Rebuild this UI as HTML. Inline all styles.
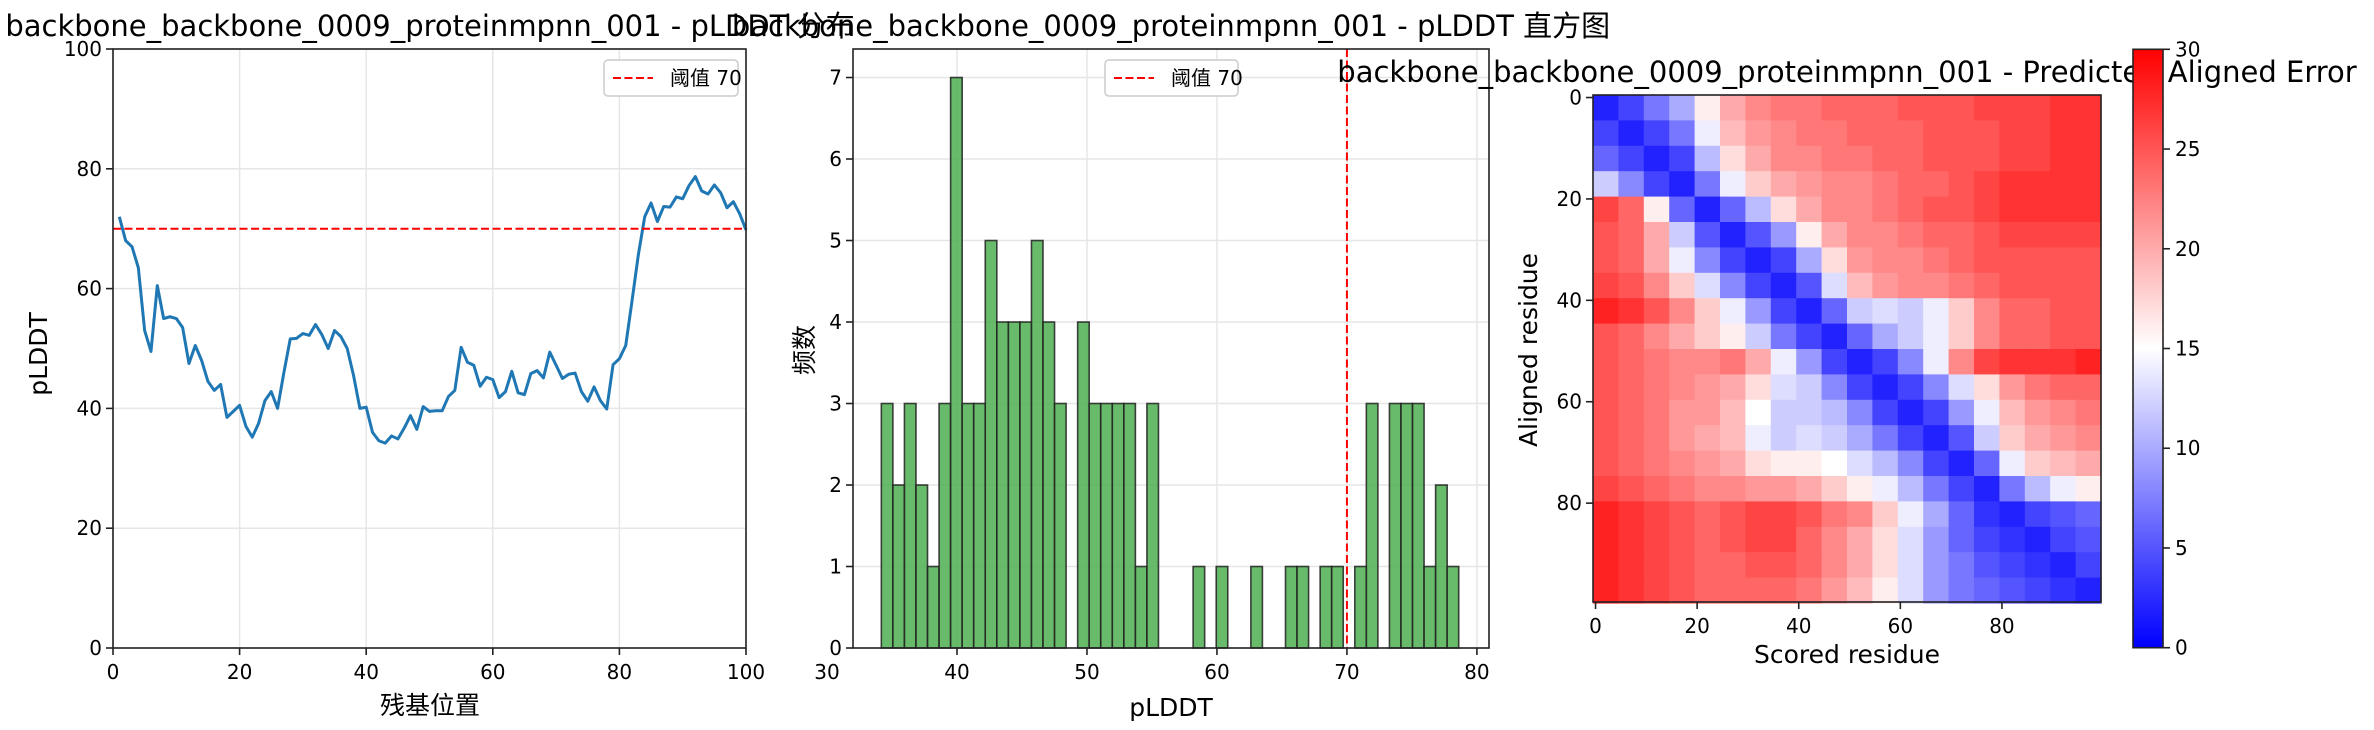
<!DOCTYPE html>
<html><head><meta charset="utf-8"><style>
body{margin:0;background:#fff}
svg{display:block;font-family:"DejaVu Sans","Liberation Sans","Noto Sans CJK SC",sans-serif}
</style></head><body>
<svg id="fig" width="2374" height="730" viewBox="0 0 2374 730">
<g id="p1"></g>
<g id="p2"></g>
<g id="p3"></g>
</svg>
<script>
const plddtValues=[72,68,67,63.5,53,49.5,60.5,55,55.3,55,53.5,47.5,50.5,48,44.5,43,44,38.5,39.5,40.5,37,35.2,37.5,41.3,42.8,40,46,51.6,51.7,52.5,52.2,54,52.3,50,53,52,50,45.5,40,40.2,36,34.6,34.2,35.4,34.9,36.7,38.8,36.5,40.3,39.5,39.6,39.6,42,43,50.2,47.7,47.2,43.7,45.2,44.8,41.8,42.8,46.2,42.6,42.3,45.8,46.3,45.1,49.4,47.2,45,45.7,45.9,42.8,41.2,43.6,41.3,39.9,47.3,48.3,50.5,58,65.7,72,74.3,71.2,73.7,73.6,75.3,75,77.2,78.7,76.3,75.8,77.3,76,73.5,74.5,72.5,69.8];
const lineXTicks=[0,20,40,60,80,100];
const lineYTicks=[0,20,40,60,80,100];
const threshold=70;
const histCounts=[3,2,3,2,1,3,7,3,3,5,4,4,4,5,4,3,0,4,3,3,3,3,1,3,0,0,0,1,0,1,0,0,1,0,0,1,1,0,1,1,0,1,3,0,3,3,3,1,2,1];
const histMin=34.18, histMax=78.6;
const histXTicks=[30,40,50,60,70,80];
const histYTicks=[0,1,2,3,4,5,6,7];
const paeGrid=[
[2,4,7,10,16,20,22,23,23,24,24,24,25,25,25,26,26,26,27,27],
[4,2,4,7,14,19,21,22,23,23,24,24,24,25,25,25,26,26,27,27],
[6,4,2,4,11,17,20,22,22,23,23,24,24,25,25,25,26,26,27,27],
[12,8,4,2,7,14,18,20,21,22,22,23,24,24,25,26,27,27,27,27],
[26,24,16,6,2,6,11,17,20,22,22,23,24,25,25,26,27,27,27,27],
[25,24,20,12,5,2,5,9,16,20,22,22,23,24,24,25,26,26,26,26],
[25,24,20,14,8,4,2,4,10,17,21,22,22,23,24,25,25,25,25,25],
[26,25,22,18,13,8,4,2,5,13,19,21,22,22,23,24,25,25,25,25],
[28,27,25,22,18,14,9,4,2,6,12,13,12,14,18,22,24,24,25,25],
[25,24,22,20,18,16,12,7,4,2,6,10,12,14,18,22,24,24,25,25],
[25,24,23,22,22,23,20,14,9,4,2,4,8,14,22,26,27,27,27,28],
[25,24,23,22,21,20,17,13,12,8,4,2,4,8,13,17,21,23,24,24],
[25,24,23,21,21,19,15,12,12,11,8,4,2,4,9,14,19,21,22,23],
[25,24,23,21,20,19,14,12,13,12,10,7,4,2,5,12,18,20,21,22],
[25,24,23,22,21,20,17,16,16,15,13,11,8,4,2,6,14,18,19,20],
[26,25,24,23,22,22,21,21,20,18,16,14,11,7,4,2,7,11,14,16],
[28,27,26,25,24,25,26,26,25,23,22,18,14,10,6,3,2,4,5,6],
[28,27,26,25,24,25,26,26,24,22,20,17,13,9,6,4,3,2,4,5],
[28,27,26,25,24,24,25,25,24,22,20,17,13,9,7,5,4,3,2,4],
[28,27,26,25,24,24,24,24,23,21,19,16,13,9,7,6,5,4,3,2]];
const paeTicks=[0,20,40,60,80];
const cbarTicks=[0,5,10,15,20,25,30];

const NS="http://www.w3.org/2000/svg";
function mk(parent,tag,attrs,text){const e=document.createElementNS(NS,tag);for(const k in attrs)e.setAttribute(k,attrs[k]);if(text!==undefined)e.textContent=text;parent.appendChild(e);return e;}
const TF=20, LF=25, TTF=29;
const T0=49, B0=648;

// ---------- Panel 1 ----------
(function(){
const g=document.getElementById('p1');
const L=113,R=746,T=T0,B=B0;
const x=v=>L+v/100*(R-L), y=v=>B-v/100*(B-T);
lineXTicks.forEach(t=>{const gl=mk(g,'line',{x1:x(t),x2:x(t),y1:T,y2:B,stroke:'#e6e6e6','stroke-width':1.5});
});
lineYTicks.forEach(t=>{const gl=mk(g,'line',{x1:L,x2:R,y1:y(t),y2:y(t),stroke:'#e6e6e6','stroke-width':1.5});
});
const pts=plddtValues.map((v,i)=>x(i+1).toFixed(2)+','+y(v).toFixed(2)).join(' ');
const pl=mk(g,'polyline',{points:pts,fill:'none',stroke:'#1f77b4','stroke-width':3,'stroke-linejoin':'round'});

const th=mk(g,'line',{x1:L,x2:R,y1:y(threshold),y2:y(threshold),stroke:'#ff0000','stroke-width':2,'stroke-dasharray':'8,3.5'});

const fr=mk(g,'rect',{x:L,y:T,width:R-L,height:B-T,fill:'none',stroke:'#222','stroke-width':1.6});

lineXTicks.forEach(t=>{mk(g,'line',{x1:x(t),x2:x(t),y1:B,y2:B+7,stroke:'#222','stroke-width':1.6});
const tl=mk(g,'text',{x:x(t),y:B+31,'font-size':TF,'text-anchor':'middle'},String(t));
});
lineYTicks.forEach(t=>{mk(g,'line',{x1:L-7,x2:L,y1:y(t),y2:y(t),stroke:'#222','stroke-width':1.6});
const tl=mk(g,'text',{x:L-11,y:y(t)+7,'font-size':TF,'text-anchor':'end'},String(t));
});
const tt=mk(g,'text',{x:430,y:36,'font-size':TTF,'text-anchor':'middle'},'backbone_backbone_0009_proteinmpnn_001 - pLDDT 分布');

const xl=mk(g,'text',{x:430,y:714,'font-size':LF,'text-anchor':'middle'},'残基位置');

const yl=mk(g,'text',{x:47,y:354,'font-size':LF,'text-anchor':'middle',transform:'rotate(-90 47 354)'},'pLDDT');

const lg=mk(g,'g',{});
mk(lg,'rect',{x:604,y:60,width:134,height:36,rx:4,fill:'#fff',stroke:'#ccc','stroke-width':1.5});
mk(lg,'line',{x1:613,x2:653,y1:78,y2:78,stroke:'#f00','stroke-width':2,'stroke-dasharray':'8,3.5'});
mk(lg,'text',{x:670,y:85,'font-size':TF},'阈值 70');
})();

// ---------- Panel 2 ----------
(function(){
const g=document.getElementById('p2');
const L=853,R=1489,T=T0,B=B0;
const xmin=32.0,xmax=80.93,ymax=7.35;
const x=v=>L+(v-xmin)/(xmax-xmin)*(R-L), y=v=>B-v/ymax*(B-T);
histXTicks.forEach(t=>{if(x(t)<L)return;const gl=mk(g,'line',{x1:x(t),x2:x(t),y1:T,y2:B,stroke:'#e6e6e6','stroke-width':1.5});
});
histYTicks.forEach(t=>{const gl=mk(g,'line',{x1:L,x2:R,y1:y(t),y2:y(t),stroke:'#e6e6e6','stroke-width':1.5});
});
const w=(histMax-histMin)/histCounts.length;
histCounts.forEach((c,i)=>{if(!c)return;const x0=x(histMin+i*w),x1=x(histMin+(i+1)*w);
const b=mk(g,'rect',{x:x0,y:y(c),width:x1-x0,height:B-y(c),fill:'#4caf50','fill-opacity':0.85,stroke:'#222','stroke-opacity':0.85,'stroke-width':1.6});
});
const th=mk(g,'line',{x1:x(threshold),x2:x(threshold),y1:T,y2:B,stroke:'#ff0000','stroke-width':2,'stroke-dasharray':'8,3.5'});

const fr=mk(g,'rect',{x:L,y:T,width:R-L,height:B-T,fill:'none',stroke:'#222','stroke-width':1.6});

histXTicks.forEach(t=>{const xx=x(t);if(xx>=L-1)mk(g,'line',{x1:xx,x2:xx,y1:B,y2:B+7,stroke:'#222','stroke-width':1.6});
const tl=mk(g,'text',{x:xx,y:B+31,'font-size':TF,'text-anchor':'middle'},String(t));
});
histYTicks.forEach(t=>{mk(g,'line',{x1:L-7,x2:L,y1:y(t),y2:y(t),stroke:'#222','stroke-width':1.6});
const tl=mk(g,'text',{x:L-11,y:y(t)+7,'font-size':TF,'text-anchor':'end'},String(t));
});
const tt=mk(g,'text',{x:1171,y:36,'font-size':TTF,'text-anchor':'middle'},'backbone_backbone_0009_proteinmpnn_001 - pLDDT 直方图');

const xl=mk(g,'text',{x:1171,y:716,'font-size':LF,'text-anchor':'middle'},'pLDDT');

const yl=mk(g,'text',{x:813,y:350,'font-size':LF,'text-anchor':'middle',transform:'rotate(-90 813 350)'},'频数');

const lg=mk(g,'g',{});
mk(lg,'rect',{x:1105,y:60,width:133,height:36,rx:4,fill:'#fff',stroke:'#ccc','stroke-width':1.5});
mk(lg,'line',{x1:1114,x2:1154,y1:78,y2:78,stroke:'#f00','stroke-width':2,'stroke-dasharray':'8,3.5'});
mk(lg,'text',{x:1171,y:85,'font-size':TF},'阈值 70');
})();

// ---------- Panel 3 ----------
(function(){
const g=document.getElementById('p3');
const L=1593,R=2101,T=95,B=602,N=100;
const cx=v=>L+(v+0.5)/N*(R-L), cy=v=>T+(v+0.5)/N*(B-T);
function bwr(v){let t=Math.max(0,Math.min(1,v/30));let r,gg,b;
if(t<0.5){r=gg=Math.round(255*t*2);b=255;}else{r=255;gg=b=Math.round(255*(1-t)*2);}return `rgb(${r},${gg},${b})`;}
const n=paeGrid.length, cell=(R-L)/n;
paeGrid.forEach((row,i)=>row.forEach((v,j)=>{
const c=mk(g,'rect',{x:L+j*cell,y:T+i*cell,width:cell+0.6,height:cell+0.6,fill:bwr(v)});
}));
const fr=mk(g,'rect',{x:L,y:T,width:R-L,height:B-T,fill:'none',stroke:'#222','stroke-width':1.6});

paeTicks.forEach(t=>{mk(g,'line',{x1:cx(t),x2:cx(t),y1:B,y2:B+7,stroke:'#222','stroke-width':1.6});
const tl=mk(g,'text',{x:cx(t),y:B+31,'font-size':TF,'text-anchor':'middle'},String(t));

mk(g,'line',{x1:L-7,x2:L,y1:cy(t),y2:cy(t),stroke:'#222','stroke-width':1.6});
const yl=mk(g,'text',{x:L-11,y:cy(t)+7,'font-size':TF,'text-anchor':'end'},String(t));
});
const tt=mk(g,'text',{x:1847,y:82,'font-size':TTF,'text-anchor':'middle'},'backbone_backbone_0009_proteinmpnn_001 - Predicted Aligned Error');

const xl=mk(g,'text',{x:1847,y:663,'font-size':LF,'text-anchor':'middle'},'Scored residue');

const yl=mk(g,'text',{x:1537,y:350,'font-size':LF,'text-anchor':'middle',transform:'rotate(-90 1537 350)'},'Aligned residue');

const CL=2133,CR=2163,CT=49.3,CB=647.7;
const defs=mk(g,'defs',{});const lgd=mk(defs,'linearGradient',{id:'bwr',x1:0,y1:1,x2:0,y2:0});
mk(lgd,'stop',{offset:0,'stop-color':'#0000ff'});mk(lgd,'stop',{offset:0.5,'stop-color':'#ffffff'});mk(lgd,'stop',{offset:1,'stop-color':'#ff0000'});
const cb=mk(g,'rect',{x:CL,y:CT,width:CR-CL,height:CB-CT,fill:'url(#bwr)',stroke:'#222','stroke-width':1.6});

cbarTicks.forEach(t=>{const yy=CB-t/30*(CB-CT);mk(g,'line',{x1:CR,x2:CR+7,y1:yy,y2:yy,stroke:'#222','stroke-width':1.6});
const tl=mk(g,'text',{x:CR+12,y:yy+7,'font-size':TF},String(t));
});
})();
</script>
</body></html>
